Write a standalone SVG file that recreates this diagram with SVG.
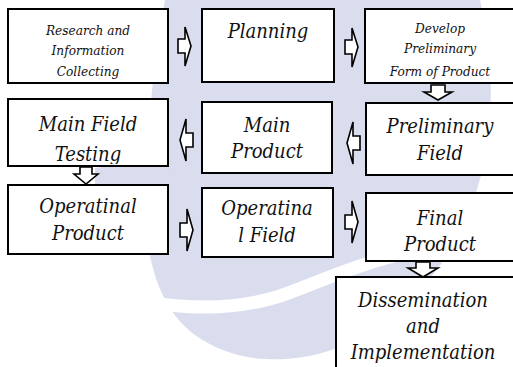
<svg xmlns="http://www.w3.org/2000/svg" width="513" height="367" viewBox="0 0 513 367">
  <style>
    .box { fill: #ffffff; stroke: #000000; stroke-width: 2; }
    .big { font-family: "DejaVu Serif Condensed", "DejaVu Serif", "Liberation Serif", serif; font-style: italic; font-weight: normal; font-size: 20px; fill: #111; text-anchor: middle; }
    .small { font-family: "DejaVu Serif Condensed", "DejaVu Serif", "Liberation Serif", serif; font-style: italic; font-weight: normal; font-size: 13.5px; fill: #111; text-anchor: middle; }
    .arrow { fill: #ffffff; stroke: #000000; stroke-width: 1.6; stroke-linejoin: miter; }
    .mark { fill: #d9ddee; }
    .wave { fill: none; stroke: #ffffff; }
  </style>
  <defs>
    <clipPath id="c1"><rect x="9" y="10" width="158" height="69"/></clipPath>
    <clipPath id="c3"><rect x="366" y="10" width="150" height="70"/></clipPath>
    <clipPath id="c4"><rect x="9" y="100" width="158" height="64"/></clipPath>
    <clipPath id="c10"><rect x="337" y="278" width="180" height="90"/></clipPath>
  </defs>

  <rect width="513" height="367" fill="#ffffff"/>

  <!-- pale background emblem -->
  <g id="emblem">
    <path class="mark" d="M165,0 L480,0 C505,110 490,230 400,310 C340,365 250,375 195,335 C140,295 138,200 150,110 C155,60 160,30 165,0 Z"/>
    <path class="mark" d="M95,168 C130,162 160,164 175,170 L175,186 L95,186 Z"/>
    <path class="wave" stroke-width="13" d="M130,300 C180,308 230,312 280,296 C320,282 360,262 420,250"/>
  </g>

  <!-- connectors -->
  <g id="connectors">
    <!-- right-pointing block arrows -->
    <polygon class="arrow" points="178,39 185,39 185,27 191,46 185,66 185,53 178,53"/>
    <polygon class="arrow" points="345,40 352,40 352,28 358,47 352,67 352,54 345,54"/>
    <polygon class="arrow" points="180,223 187,223 187,209 193,230 187,251 187,237 180,237"/>
    <polygon class="arrow" points="345,215 352,215 352,201 358,222 352,243 352,229 345,229"/>
    <!-- left-pointing block arrows -->
    <polygon class="arrow" points="193,133 186,133 186,119 180,140 186,161 186,147 193,147"/>
    <polygon class="arrow" points="360,136 353,136 353,122 347,143 353,164 353,150 360,150"/>
    <!-- down-pointing block arrows -->
    <polygon class="arrow" points="431,85 445,85 445,92 452,92 438,100 424,92 431,92"/>
    <polygon class="arrow" points="80,167 92,167 92,174 98,174 86,184 74,174 80,174"/>
    <polygon class="arrow" points="416,262 430,262 430,268 438,268 423,277 408,268 416,268"/>
  </g>

  <g id="research">
    <rect class="box" x="8" y="9" width="160" height="74"/>
    <text class="small" clip-path="url(#c1)"><tspan x="88" y="35">Research and</tspan><tspan x="88" y="55">Information</tspan><tspan x="88" y="76">Collecting</tspan></text>
  </g>

  <g id="planning">
    <rect class="box" x="202" y="9" width="132" height="73"/>
    <text class="big" x="268" y="38">Planning</text>
  </g>

  <g id="develop">
    <rect class="box" x="365" y="9" width="160" height="74"/>
    <text class="small" clip-path="url(#c3)"><tspan x="440" y="33">Develop</tspan><tspan x="440" y="53">Preliminary</tspan><tspan x="440" y="76">Form of Product</tspan></text>
  </g>

  <g id="main-field-testing">
    <rect class="box" x="8" y="99" width="160" height="67"/>
    <text class="big" clip-path="url(#c4)"><tspan x="88" y="131">Main Field</tspan><tspan x="88" y="161">Testing</tspan></text>
  </g>

  <g id="main-product">
    <rect class="box" x="202" y="102" width="130" height="71"/>
    <text class="big"><tspan x="267" y="132">Main</tspan><tspan x="267" y="158">Product</tspan></text>
  </g>

  <g id="preliminary-field">
    <rect class="box" x="366" y="103" width="160" height="72"/>
    <text class="big"><tspan x="440" y="133">Preliminary</tspan><tspan x="440" y="160">Field</tspan></text>
  </g>

  <g id="operatinal-product">
    <rect class="box" x="8" y="185" width="160" height="69"/>
    <text class="big"><tspan x="88" y="213">Operatinal</tspan><tspan x="88" y="240">Product</tspan></text>
  </g>

  <g id="operatinal-field">
    <rect class="box" x="202" y="188" width="131" height="69"/>
    <text class="big"><tspan x="267" y="215">Operatina</tspan><tspan x="267" y="242">l Field</tspan></text>
  </g>

  <g id="final-product">
    <rect class="box" x="366" y="193" width="160" height="68"/>
    <text class="big"><tspan x="440" y="225">Final</tspan><tspan x="440" y="251">Product</tspan></text>
  </g>

  <g id="dissemination">
    <rect class="box" x="336" y="277" width="190" height="120"/>
    <text class="big" clip-path="url(#c10)"><tspan x="423" y="307">Dissemination</tspan><tspan x="423" y="333">and</tspan><tspan x="423" y="359">Implementation</tspan></text>
  </g>
</svg>
